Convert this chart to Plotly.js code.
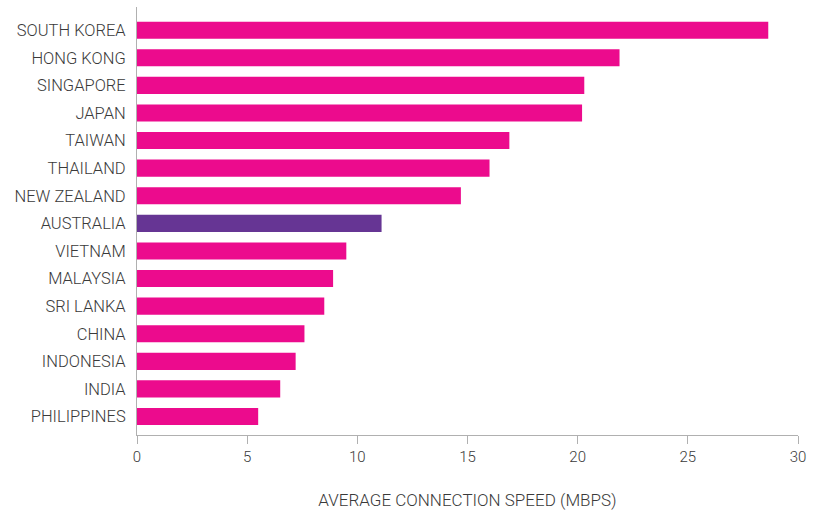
<!DOCTYPE html>
<html><head><meta charset="utf-8">
<script src="https://cdn.plot.ly/plotly-3.0.1.min.js"></script>
<style>body{margin:0;background:#fff}#chart{width:815px;height:513px}</style>
</head><body><div id="chart"></div>
<script>
const countries = ["SOUTH KOREA","HONG KONG","SINGAPORE","JAPAN","TAIWAN","THAILAND","NEW ZEALAND","AUSTRALIA","VIETNAM","MALAYSIA","SRI LANKA","CHINA","INDONESIA","INDIA","PHILIPPINES"];
const speeds = [28.65, 21.9, 20.3, 20.2, 16.9, 16.0, 14.7, 11.1, 9.5, 8.9, 8.5, 7.6, 7.2, 6.5, 5.5];
const highlight = "AUSTRALIA";
const xTicks = [0,5,10,15,20,25,30];

const colors = countries.map(c => c === highlight ? "#663594" : "#EC0B8D");
const font = "Roboto, 'DejaVu Sans Condensed', sans-serif";

Plotly.newPlot("chart", [{
  type: "bar", orientation: "h",
  y: countries, x: speeds,
  marker: {color: colors},
  width: 0.62,
  hoverinfo: "skip"
}], {
  width: 815, height: 513,
  margin: {l: 137, r: 17, t: 7, b: 78},
  paper_bgcolor: "#fff", plot_bgcolor: "#fff",
  showlegend: false,
  xaxis: {
    range: [0, 30], tickvals: xTicks, showgrid: false, zeroline: false,
    showline: true, linecolor: "#b0b0b0", linewidth: 1,
    ticks: "outside", ticklen: 8, tickcolor: "#b0b0b0",
    tickfont: {family: font, size: 15, color: "#3a3a3a", weight: 300},
    title: {text: "AVERAGE CONNECTION SPEED (MBPS)", font: {family: font, size: 17, color: "#3a3a3a", weight: 300}, standoff: 29}
  },
  yaxis: {
    type: "category", categoryorder: "array", categoryarray: countries,
    range: [14.67, -0.84], showgrid: false, zeroline: false,
    showline: true, linecolor: "#b0b0b0", linewidth: 1,
    ticks: "", ticklabelstandoff: 7,
    tickfont: {family: font, size: 16.5, color: "#3a3a3a", weight: 300}
  }
}, {displayModeBar: false, staticPlot: true});
</script></body></html>
